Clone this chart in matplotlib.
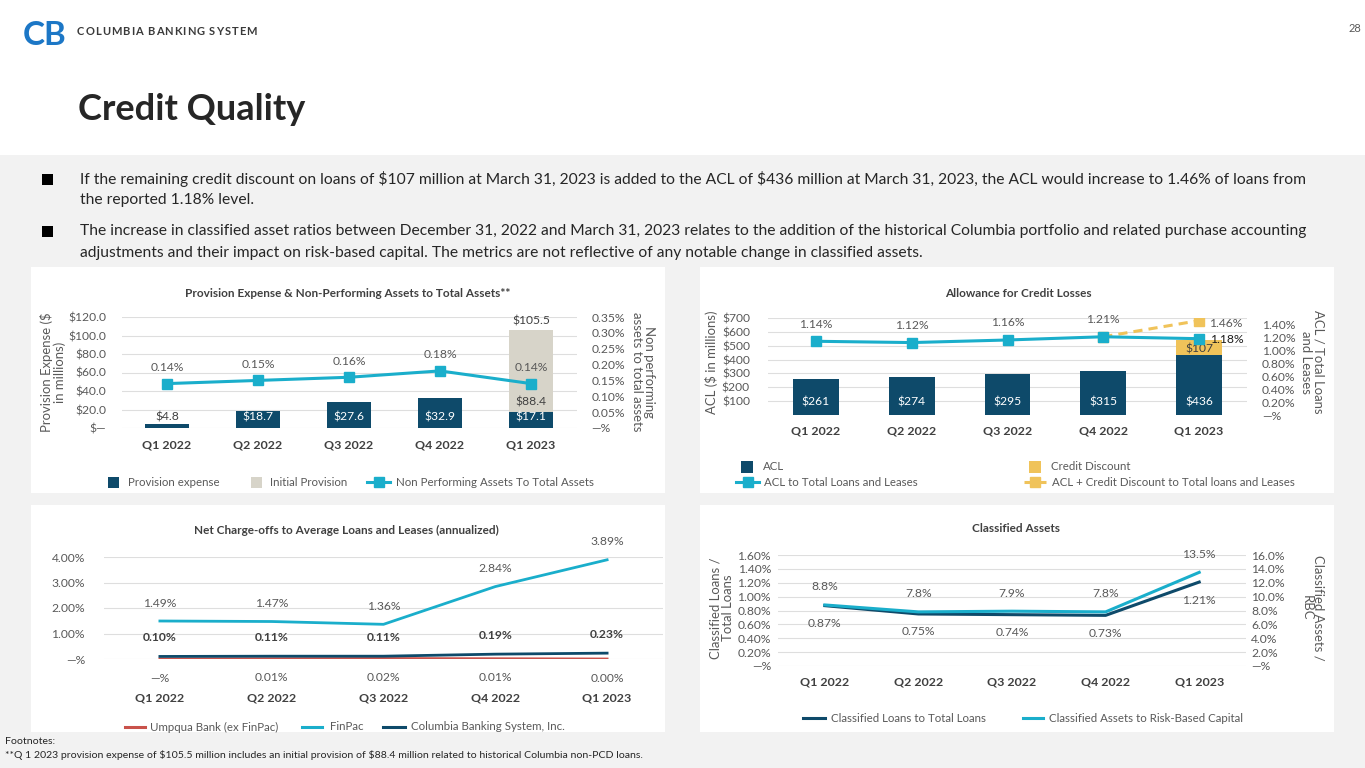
import matplotlib
matplotlib.use('Agg')
import matplotlib.pyplot as plt
from matplotlib.patches import Rectangle
from matplotlib.lines import Line2D
import numpy as np

# ---------------- data ----------------
quarters = ['Q1 2022', 'Q2 2022', 'Q3 2022', 'Q4 2022', 'Q1 2023']

provision_expense = [4.8, 18.7, 27.6, 32.9, 17.1]
initial_provision = [0.0, 0.0, 0.0, 0.0, 88.4]
npa_to_assets = [0.14, 0.15, 0.16, 0.18, 0.14]
prov_ticks = [0, 20, 40, 60, 80, 100, 120]
prov_tick_labels = ['$—', '$20.0', '$40.0', '$60.0', '$80.0', '$100.0', '$120.0']
npa_ticks = [0, 0.05, 0.10, 0.15, 0.20, 0.25, 0.30, 0.35]
npa_tick_labels = ['—%', '0.05%', '0.10%', '0.15%', '0.20%', '0.25%', '0.30%', '0.35%']

acl = [261, 274, 295, 315, 436]
credit_discount = [0, 0, 0, 0, 107]
acl_ratio = [1.14, 1.12, 1.16, 1.21, 1.18]
acl_cd_ratio = [np.nan, np.nan, np.nan, 1.21, 1.46]
acl_ticks = [100, 200, 300, 400, 500, 600, 700]
acl_tick_labels = ['$100', '$200', '$300', '$400', '$500', '$600', '$700']
ratio_ticks = [0, 0.2, 0.4, 0.6, 0.8, 1.0, 1.2, 1.4]
ratio_tick_labels = ['—%', '0.20%', '0.40%', '0.60%', '0.80%', '1.00%', '1.20%', '1.40%']

nco_umpqua = [0.00, 0.01, 0.02, 0.01, 0.00]
nco_umpqua_labels = ['—%', '0.01%', '0.02%', '0.01%', '0.00%']
nco_finpac = [1.49, 1.47, 1.36, 2.84, 3.89]
nco_cbs = [0.10, 0.11, 0.11, 0.19, 0.23]
nco_ticks = [0, 1, 2, 3, 4]
nco_tick_labels = ['—%', '1.00%', '2.00%', '3.00%', '4.00%']

classified_loans = [0.87, 0.75, 0.74, 0.73, 1.21]
classified_rbc = [8.8, 7.8, 7.9, 7.8, 13.5]
cl_ticks = [0, 0.2, 0.4, 0.6, 0.8, 1.0, 1.2, 1.4, 1.6]
cl_tick_labels = ['—%', '0.20%', '0.40%', '0.60%', '0.80%', '1.00%', '1.20%', '1.40%', '1.60%']
rbc_ticks = [0, 2, 4, 6, 8, 10, 12, 14, 16]
rbc_tick_labels = ['—%', '2.0%', '4.0%', '6.0%', '8.0%', '10.0%', '12.0%', '14.0%', '16.0%']

bullets = [
    ['If the remaining credit discount on loans of $107 million at March 31, 2023 is added to the ACL of $436 million at March 31, 2023, the ACL would increase to 1.46% of loans from',
     'the reported 1.18% level.'],
    ['The increase in classified asset ratios between December 31, 2022 and March 31, 2023 relates to the addition of the historical Columbia portfolio and related purchase accounting',
     'adjustments and their impact on risk-based capital. The metrics are not reflective of any notable change in classified assets.'],
]
footnotes = ['Footnotes:',
             '**Q 1 2023 provision expense of $105.5 million includes an initial provision of $88.4 million related to historical Columbia non-PCD loans.']

# ---------------- style ----------------
plt.rcParams['font.family'] = ['Lato', 'DejaVu Sans']
try:
    plt.rcParams['text.parse_math'] = False
except KeyError:
    pass
NAVY = '#0e4a6a'
TEAL = '#1aaecb'
BEIGE = '#d7d4c9'
GOLD = '#f0c35a'
RED = '#c9524b'
GRAY = '#595959'
DARK = '#404040'
GRID = '#dedede'
BG = '#f2f2f2'

W, H = 1365, 768
fig = plt.figure(figsize=(W / 100, H / 100), dpi=100)
fig.patch.set_facecolor('white')
renderer = fig.canvas.get_renderer()


def text_width(s, size, weight='normal'):
    t = fig.text(0, 0, s, fontsize=size, fontweight=weight, parse_math=False)
    w = t.get_window_extent(renderer).width
    t.remove()
    return w


def fit_size(s, target, weight='normal', base=10.0):
    return base * target / text_width(s, base, weight)


def ftext(x, y, s, **kw):
    kw.setdefault('parse_math', False)
    return fig.text(x / W, 1 - y / H, s, **kw)


def tracked_text(x, y, s, size, target, **kw):
    wt = kw.get('fontweight', 'normal')
    widths = []
    for ch in s:
        if ch == ' ':
            widths.append(text_width('a a', size, wt) - text_width('aa', size, wt))
        else:
            widths.append(text_width(ch, size, wt))
    extra = (target - sum(widths)) / (len(s) - 1)
    cx = x
    for ch, w in zip(s, widths):
        if ch != ' ':
            ftext(cx, y, ch, fontsize=size, ha='left', **kw)
        cx += w + extra


def frect(x0, y0, x1, y1, color, z=0):
    fig.patches.append(Rectangle((x0 / W, 1 - y1 / H), (x1 - x0) / W, (y1 - y0) / H,
                                 transform=fig.transFigure, facecolor=color,
                                 edgecolor='none', zorder=z))


def fline(x0, x1, y, color, ls='-', lw=2.2, marker=None):
    fig.lines.append(Line2D([x0 / W, x1 / W], [1 - y / H, 1 - y / H], transform=fig.transFigure,
                            color=color, lw=lw, ls=ls, zorder=3))
    if marker:
        xm = (x0 + x1) / 2
        fig.lines.append(Line2D([xm / W], [1 - y / H], transform=fig.transFigure,
                                color=color, marker=marker, ms=7, lw=0, zorder=4))


def make_axes(x0, y_top, x1, y_bot):
    ax = fig.add_axes([x0 / W, 1 - y_bot / H, (x1 - x0) / W, (y_bot - y_top) / H])
    ax.set_facecolor('none')
    for s in ax.spines.values():
        s.set_visible(False)
    ax.tick_params(length=0)
    return ax


def twin(ax):
    a = ax.twinx()
    a.set_facecolor('none')
    for s in a.spines.values():
        s.set_visible(False)
    a.tick_params(length=0)
    return a


def label(ax, x, y, s, dy=0, dx=0, color=GRAY, size=9, weight='normal', ha='center'):
    ax.annotate(s, (x, y), xytext=(dx, dy), textcoords='offset pixels', ha=ha, va='center',
                color=color, fontsize=size, fontweight=weight, annotation_clip=False, zorder=6,
                parse_math=False)


# font sizes fitted to the reference widths
title_sz = fit_size('Credit Quality', 227, 'bold')
bullet_sz = fit_size(bullets[0][0], 1225)
ctitle_sz = fit_size('Net Charge-offs to Average Loans and Leases (annualized)', 305, 'bold')
tick_sz = fit_size('$120.0', 38)
cat_sz = fit_size('Q1 2022', 49, 'bold')
leg_sz = fit_size('Non Performing Assets To Total Assets', 199)
foot_sz = fit_size(footnotes[1], 632)
val_sz = tick_sz

# ---------------- page background ----------------
frect(0, 155, W, H, BG)
for (x0, y0, x1, y1) in [(31, 267, 665, 493), (700, 267, 1334, 493),
                         (31, 505, 665, 732), (700, 505, 1334, 732)]:
    frect(x0, y0, x1, y1, 'white', z=1)

# header
ftext(23, 45, 'CB', fontsize=fit_size('CB', 44, 'bold'), fontweight='bold', color='#1c77c6',
      va='baseline', ha='left')
tracked_text(77, 35, 'COLUMBIA BANKING SYSTEM', 8.0, 180, fontweight='bold', color='#3a3a3a',
             va='baseline')
ftext(1355, 28, '28', fontsize=8, color=GRAY, ha='center', va='center')
ftext(78, 120, 'Credit Quality', fontsize=title_sz, fontweight='bold', color='#262626',
      va='baseline', ha='left')

# bullets
line_y = [[179, 200], [231, 253]]
for bl, ys in zip(bullets, line_y):
    frect(42, ys[0] - 5.5, 53, ys[0] + 5.5, 'black', z=2)
    for s, y in zip(bl, ys):
        ftext(80, y, s, fontsize=bullet_sz, color='#262626', va='center', ha='left')

# footnotes
ftext(5, 741, footnotes[0], fontsize=foot_sz, color='#262626', va='center', ha='left')
ftext(5, 755, footnotes[1], fontsize=foot_sz, color='#262626', va='center', ha='left')

x = np.arange(len(quarters))


def style_x(ax, pad_px):
    ax.set_xticks(x)
    ax.set_xticklabels(quarters, fontsize=cat_sz, fontweight='bold', color=DARK)
    ax.tick_params(axis='x', pad=pad_px * 0.72)
    for t in ax.get_xticklabels():
        t.set_va('center')
    ax.set_xlim(-0.5, len(quarters) - 0.5)


def style_y(ax, ticks, labels, lim, pad_px, grid=False):
    ax.set_ylim(*lim)
    ax.set_yticks(ticks)
    ax.set_yticklabels(labels, fontsize=tick_sz, color=GRAY)
    ax.tick_params(axis='y', pad=pad_px * 0.72)
    if grid:
        ax.yaxis.grid(True, color=GRID, lw=0.8)
        ax.set_axisbelow(True)


def yl(x, y, s, rot):
    ftext(x, y, s, fontsize=tick_sz * 1.08, color=GRAY, rotation=rot, ha='center', va='center',
          multialignment='center', linespacing=1.0, zorder=5)


def lt(x, y, s):
    ftext(x, y, s, fontsize=leg_sz, color=GRAY, va='center', zorder=5)


# ---------------- chart 1 ----------------
ftext(348, 293, 'Provision Expense & Non-Performing Assets to Total Assets**', fontsize=ctitle_sz,
      fontweight='bold', color=DARK, ha='center', va='center', zorder=5)
ax1 = make_axes(121.5, 317, 576.5, 428)
ax1.set_zorder(3)
bw = 0.48
ax1.bar(x, provision_expense, width=bw, color=NAVY, zorder=2)
ax1.bar(x, initial_provision, bottom=provision_expense, width=bw, color=BEIGE, zorder=2)
style_x(ax1, 17)
style_y(ax1, prov_ticks, prov_tick_labels, (0, 120), 15, grid=True)
ax1b = twin(ax1)
ax1b.plot(x, npa_to_assets, color=TEAL, lw=2.2, marker='s', ms=7, zorder=4)
style_y(ax1b, npa_ticks, npa_tick_labels, (0, 0.35), 15)
for t in ax1b.get_yticklabels():
    t.set_ha('left')
for i, v in enumerate(npa_to_assets):
    label(ax1b, i, v, f'{v:.2f}%', dy=16, size=val_sz)
for i, v in enumerate(provision_expense):
    label(ax1, i, 0, f'${v:.1f}', dy=11, size=val_sz, color='white' if v > 10 else DARK)
    if initial_provision[i] > 0:
        top = v + initial_provision[i]
        label(ax1, i, v, f'${initial_provision[i]:.1f}', dy=10, size=val_sz, color=DARK)
        label(ax1, i, top, f'${top:.1f}', dy=9, size=val_sz, color=DARK)
yl(53, 372, 'Provision Expense ($\nin millions)', 90)
yl(643, 372, 'Non performing\nassets to total assets', -90)
# legend 1
frect(108, 477, 119, 488, NAVY, z=3)
lt(128, 482, 'Provision expense')
frect(251, 477, 262, 488, BEIGE, z=3)
lt(270, 482, 'Initial Provision')
fline(367, 390, 482, TEAL, marker='s')
lt(396, 482, 'Non Performing Assets To Total Assets')

# ---------------- chart 2 ----------------
ftext(1018, 293, 'Allowance for Credit Losses', fontsize=ctitle_sz, fontweight='bold', color=DARK,
      ha='center', va='center', zorder=5)
ax2 = make_axes(768, 318, 1247, 415)
ax2.set_zorder(3)
ax2.bar(x, acl, width=bw, color=NAVY, zorder=2)
ax2.bar(x, credit_discount, bottom=acl, width=bw, color=GOLD, zorder=2)
style_x(ax2, 16)
style_y(ax2, acl_ticks, acl_tick_labels, (0, 700), 18, grid=True)
ax2b = twin(ax2)
ax2b.plot(x, acl_cd_ratio, color=GOLD, lw=2.2, ls=(0, (3, 2)), marker='s', ms=7, zorder=3)
ax2b.plot(x, acl_ratio, color=TEAL, lw=2.2, marker='s', ms=7, zorder=4)
style_y(ax2b, ratio_ticks, ratio_tick_labels, (0, 1.5), 15)
for t in ax2b.get_yticklabels():
    t.set_ha('left')
n = len(quarters)
for i, v in enumerate(acl_ratio):
    if i < n - 1:
        label(ax2b, i, v, f'{v:.2f}%', dy=17, size=val_sz)
    else:
        label(ax2b, i, v, f'{v:.2f}%', dx=11, dy=-1, ha='left', size=val_sz, color='#1a1a1a')
label(ax2b, n - 1, acl_cd_ratio[-1], f'{acl_cd_ratio[-1]:.2f}%', dx=10, dy=-3, ha='left', size=val_sz)
for i, v in enumerate(acl):
    label(ax2, i, 0, f'${v}', dy=13, size=val_sz, color='white')
    if credit_discount[i] > 0:
        label(ax2, i, v, f'${credit_discount[i]}', dy=6, size=val_sz, color=DARK)
yl(711, 362, 'ACL ($ in millions)', 90)
yl(1312, 362, 'ACL / Total Loans\nand Leases', -90)
# legend 2
frect(741, 461, 753, 473, NAVY, z=3)
lt(763, 467, 'ACL')
frect(1029, 461, 1041, 473, GOLD, z=3)
lt(1051, 467, 'Credit Discount')
fline(736, 759, 482, TEAL, marker='s')
lt(764, 482, 'ACL to Total Loans and Leases')
fline(1024, 1046, 482, GOLD, ls=(0, (3, 2)), marker='s')
lt(1052, 482, 'ACL + Credit Discount to Total loans and Leases')

# ---------------- chart 3 ----------------
ftext(346, 530, 'Net Charge-offs to Average Loans and Leases (annualized)', fontsize=ctitle_sz,
      fontweight='bold', color=DARK, ha='center', va='center', zorder=5)
ax3 = make_axes(104, 557, 663, 659)
ax3.set_zorder(3)
ax3.plot(x, nco_umpqua, color=RED, lw=2.0, zorder=3)
ax3.plot(x, nco_finpac, color=TEAL, lw=2.0, zorder=3)
ax3.plot(x, nco_cbs, color=NAVY, lw=2.0, zorder=4)
style_x(ax3, 39)
style_y(ax3, nco_ticks, nco_tick_labels, (0, 4), 19, grid=True)
for i, v in enumerate(nco_finpac):
    label(ax3, i, v, f'{v:.2f}%', dy=18, size=val_sz)
for i, v in enumerate(nco_cbs):
    label(ax3, i, v, f'{v:.2f}%', dy=19, size=val_sz, weight='bold', color=DARK)
for i, s in enumerate(nco_umpqua_labels):
    label(ax3, i, nco_umpqua[i], s, dy=-19, size=val_sz)
# legend 3
fline(125, 145, 727, RED, lw=2.2)
lt(150, 727, 'Umpqua Bank (ex FinPac)')
fline(302, 322, 727, TEAL, lw=2.2)
lt(330, 727, 'FinPac')
fline(383, 405, 727, NAVY, lw=2.2)
lt(411, 727, 'Columbia Banking System, Inc.')

# ---------------- chart 4 ----------------
ftext(1016, 528, 'Classified Assets', fontsize=ctitle_sz, fontweight='bold', color=DARK,
      ha='center', va='center', zorder=5)
ax4 = make_axes(778, 555, 1246, 666)
ax4.set_zorder(3)
ax4.plot(x, classified_loans, color=NAVY, lw=2.2, zorder=3)
style_x(ax4, 16)
style_y(ax4, cl_ticks, cl_tick_labels, (0, 1.6), 7, grid=True)
ax4b = twin(ax4)
ax4b.plot(x, classified_rbc, color=TEAL, lw=2.2, zorder=3)
style_y(ax4b, rbc_ticks, rbc_tick_labels, (0, 16), 5)
for t in ax4b.get_yticklabels():
    t.set_ha('left')
for i, v in enumerate(classified_rbc):
    label(ax4b, i, v, f'{v:.1f}%', dy=18, size=val_sz)
for i, v in enumerate(classified_loans):
    label(ax4, i, v, f'{v:.2f}%', dy=-18, size=val_sz)
yl(722, 608, 'Classified Loans /\nTotal Loans', 90)
yl(1313, 608, 'Classified Assets /\nRBC', -90)
# legend 4
fline(803, 825, 718, NAVY, lw=2.2)
lt(831, 718, 'Classified Loans to Total Loans')
fline(1023, 1043, 718, TEAL, lw=2.2)
lt(1049, 718, 'Classified Assets to Risk-Based Capital')

fig.savefig('out.png', dpi=100, facecolor=fig.get_facecolor())
